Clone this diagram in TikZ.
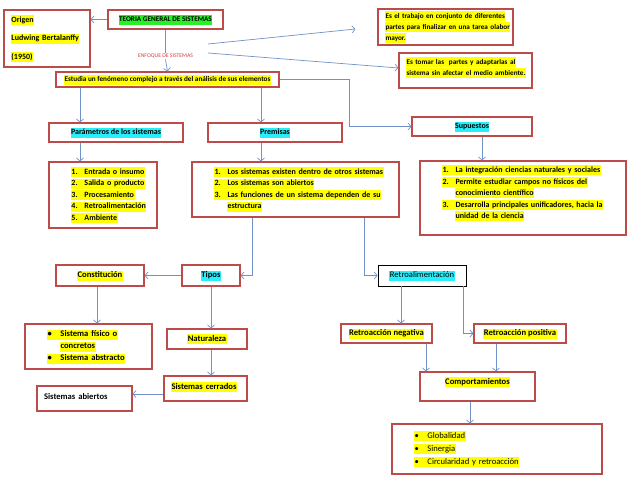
\documentclass[tikz,border=0pt]{standalone}
\usepackage{fontspec}
\setmainfont{Carlito}
\usepackage{xcolor}
\usetikzlibrary{arrows.meta}

\definecolor{boxred}{RGB}{188,76,74}
\definecolor{arrblue}{RGB}{112,146,198}
\definecolor{enfred}{RGB}{214,64,64}
\definecolor{hlyellow}{RGB}{255,255,0}
\definecolor{hlcyan}{RGB}{40,238,250}
\definecolor{hlgreen}{RGB}{40,240,40}

\newcommand\hlstrut{\rule[-2.3pt]{0pt}{9pt}}
\newcommand\hly[1]{{\setlength{\fboxsep}{0.5pt}\colorbox{hlyellow}{\hlstrut#1}}}
\newcommand\hlc[1]{{\setlength{\fboxsep}{0.5pt}\colorbox{hlcyan}{\hlstrut#1}}}
\newcommand\hlg[1]{{\setlength{\fboxsep}{0.5pt}\colorbox{hlgreen}{\hlstrut#1}}}
\newcommand\li[2]{\hspace*{19pt}\hly{\makebox[13pt][l]{#1}#2}}
\newcommand\lic[1]{\hspace*{32pt}\hly{#1}}
\newcommand\padbelow[1]{\rule[-#1]{0pt}{#1}}

\begin{document}
\begin{tikzpicture}[x=1pt, y=-1pt,
	box/.style = {draw=boxred, line width=1.1pt, inner sep=2pt, font=\fontsize{8}{10}\selectfont\bfseries},
	small/.style = {font=\fontsize{7.2}{11}\selectfont\bfseries},
	lst/.style = {box, align=left, inner xsep=3pt, font=\fontsize{8}{11.5}\selectfont\bfseries},
	lft/.style = {box, align=left, inner xsep=7pt},
	arr/.style = {draw=arrblue, line width=0.7pt, -{Straight Barb[length=3pt,width=7pt]}}]
	\useasboundingbox (0,0) rectangle (638,493);

	\node[lft, minimum height=57, text width=72] (origen) at (47,38.5)
		{\hly{Origen}\\[8.5pt]\hly{Ludwing Bertalanffy}\\[8.5pt]\hly{(1950)}};
	\node[box, small, minimum width=115, minimum height=19] (teoria) at (165.5,19.5) {\hlg{TEORIA GENERAL DE SISTEMAS}};
	\node[font=\fontsize{5.7}{7}\selectfont, text=enfred, fill=white, inner sep=1pt] (enfoque) at (165.5,56) {ENFOQUE DE SISTEMAS};
	\node[lft, small, minimum height=36, text width=121] (trabajo) at (445.5,27)
		{\hly{Es el trabajo en conjunto de diferentes}\\\hly{partes para finalizar en una tarea olabor}\\\hly{mayor.}};
	\node[lft, small, minimum height=35, text width=119] (tomar) at (465.5,70.5)
		{\hly{Es tomar las~ partes y adaptarlas al}\\\hly{sistema sin afectar el medio ambiente.}\padbelow{9pt}};
	\node[box, small, minimum width=223, minimum height=15, inner sep=1pt] (estudia) at (167.5,79.5)
		{\hly{Estudia un fenómeno complejo a través del análisis de sus elementos}};

	\node[box, minimum width=134, minimum height=19] (param) at (116,132.5) {\hlc{Parámetros de los sistemas}};
	\node[box, minimum width=134, minimum height=19] (premisas) at (275,132.5) {\hlc{Premisas}};
	\node[box, minimum width=120, minimum height=19] (supuestos) at (472,126.5) {\hlc{Supuestos}};

	\node[lst, minimum height=66, text width=102] (paramlist) at (103,195)
		{\li{1.}{Entrada o insumo}\\\li{2.}{Salida o producto}\\\li{3.}{Procesamiento}\\\li{4.}{Retroalimentación}\\\li{5.}{Ambiente}};
	\node[lst, minimum height=55, text width=201] (premlist) at (295.5,189.5)
		{\li{1.}{Los sistemas existen dentro de otros sistemas}\\\li{2.}{Los sistemas son abiertos}\\
		\li{3.}{Las funciones de un sistema dependen de su}\\\lic{estructura}};
	\node[lst, minimum height=74, text width=200] (suplist) at (523,198)
		{\li{1.}{La integración ciencias naturales y sociales}\\\li{2.}{Permite estudiar campos no físicos del}\\
		\lic{conocimiento científico}\\\li{3.}{Desarrolla principales unificadores, hacia la}\\\lic{unidad de la ciencia}\padbelow{12pt}};

	\node[box, font=\fontsize{8.6}{10}\selectfont\bfseries, minimum width=88, minimum height=21] (constitucion) at (100,275.5) {\hly{Constitución}};
	\node[box, font=\fontsize{8.6}{10}\selectfont\bfseries, minimum width=58, minimum height=21] (tipos) at (211,275.5) {\hlc{Tipos}};
	\node[box, draw=black, line width=0.8pt, font=\fontsize{8.6}{10}\selectfont, minimum width=88, minimum height=21] (retro) at (422,275.5) {\hlc{Retroalimentación}};

	\node[lst, font=\fontsize{8.6}{12}\selectfont\bfseries, minimum height=45, text width=121] (bullets) at (88.5,346.5)
		{\li{\textbullet}{Sistema físico o}\\\lic{concretos}\\\li{\textbullet}{Sistema abstracto}};
	\node[box, font=\fontsize{8.6}{10}\selectfont\bfseries, minimum width=80, minimum height=20] (naturaleza) at (207,339) {\hly{Naturaleza}};
	\node[lft, font=\fontsize{8.6}{10}\selectfont\bfseries, minimum height=25, text width=69] (cerrados) at (205.5,388.5)
		{\hly{Sistemas cerrados}\padbelow{5pt}};
	\node[lft, font=\fontsize{8.6}{10}\selectfont\bfseries, minimum height=25, text width=81] (abiertos) at (84.5,398.5)
		{Sistemas abiertos\padbelow{5pt}};

	\node[box, font=\fontsize{8.6}{10}\selectfont\bfseries, minimum width=91, minimum height=19] (negativa) at (386.5,333.5) {\hly{Retroacción negativa}};
	\node[box, font=\fontsize{8.6}{10}\selectfont\bfseries, minimum width=92, minimum height=19] (positiva) at (520,333.5) {\hly{Retroacción positiva}};
	\node[box, font=\fontsize{8.6}{10}\selectfont\bfseries, minimum width=115, minimum height=29] (comport) at (477.5,386.5)
		{\hly{Comportamientos}\padbelow{11pt}};
	\node[lst, font=\fontsize{8.6}{13}\selectfont, minimum height=50, text width=204] (complist) at (497,449)
		{\li{\textbullet}{Globalidad}\\\li{\textbullet}{Sinergia}\\\li{\textbullet}{Circularidad y retroacción}};

	% conectores
	\coordinate (enf1) at (208,44);
	\coordinate (enf2) at (208,53);
	\draw[arr] (teoria.west) -- (teoria.west -| origen.east);
	\draw[draw=arrblue, line width=0.7pt] (teoria.south) -- (enfoque.north);
	\draw[arr] (enfoque.south) -- (estudia.north);
	\draw[arr] (enf1) -- ([xshift=-22pt,yshift=-2pt]trabajo.west);
	\draw[arr] (enf2) -- ([yshift=2.5pt]tomar.west);
	\draw[arr] (estudia.east) -| ([xshift=-62pt]supuestos.west) -- (supuestos.west);
	\draw[arr] ([xshift=-36pt]param.north |- estudia.south) -- ([xshift=-36pt]param.north);
	\draw[arr] ([xshift=-14pt]premisas.north |- estudia.south) -- ([xshift=-14pt]premisas.north);
	\draw[arr] ([xshift=-36pt]param.south) -- ([xshift=-36pt]param.south |- paramlist.north);
	\draw[arr] ([xshift=-14pt]premisas.south) -- ([xshift=-14pt]premisas.south |- premlist.north);
	\draw[arr] ([xshift=10pt]supuestos.south) -- ([xshift=10pt]supuestos.south |- suplist.north);
	\draw[arr] ([xshift=-43.5pt]premlist.south) |- (tipos.east);
	\draw[arr] ([xshift=68.5pt]premlist.south) |- (retro.west);
	\draw[arr] (tipos.west) -- (constitucion.east);
	\draw[arr] ([xshift=-3pt]constitucion.south) -- ([xshift=-3pt]constitucion.south |- bullets.north);
	\draw[arr] (tipos.south) -- (tipos.south |- naturaleza.north);
	\draw[arr] ([xshift=4pt]naturaleza.south) -- ([xshift=4pt]naturaleza.south |- cerrados.north);
	\draw[arr] ([yshift=-5.5pt]cerrados.west) -- ([yshift=-5.5pt]cerrados.west -| abiertos.east);
	\draw[arr] ([xshift=-21pt]retro.south) -- ([xshift=-21pt]retro.south |- negativa.north);
	\draw[arr] ([xshift=41pt]retro.south) |- (positiva.west);
	\draw[arr] ([xshift=39.5pt]negativa.south) -- ([xshift=39.5pt]negativa.south |- comport.north);
	\draw[arr] ([xshift=-24pt]positiva.south) -- ([xshift=-24pt]positiva.south |- comport.north);
	\draw[arr] ([xshift=-7.5pt]comport.south) -- ([xshift=-7.5pt]comport.south |- complist.north);
\end{tikzpicture}
\end{document}
